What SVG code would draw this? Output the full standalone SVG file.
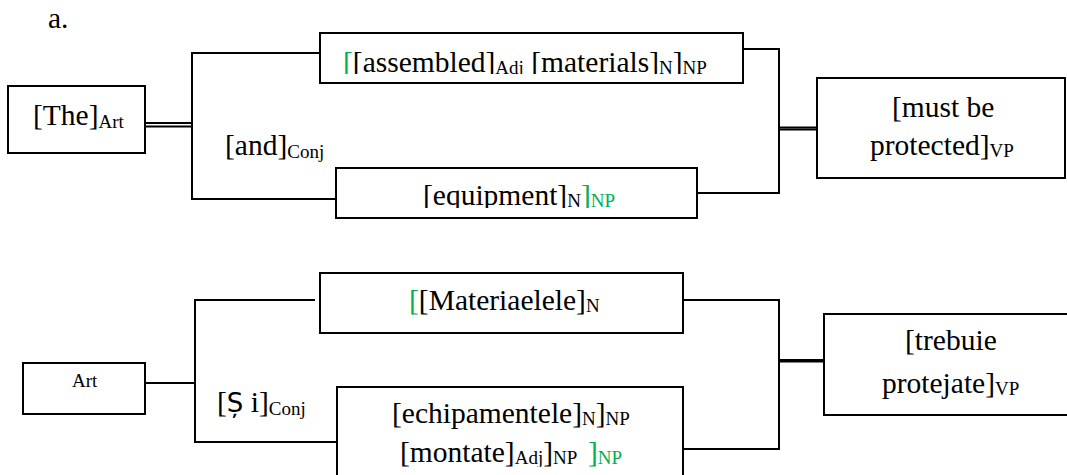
<svg xmlns="http://www.w3.org/2000/svg" width="1067" height="475" viewBox="0 0 1067 475">
  <style>
    text { font-family: 'Liberation Serif', 'DejaVu Serif', 'Times New Roman', serif; font-size: 29.5px; fill: #000; }
    .sub { font-size: 19px; }
    .g { fill: #00b050; }
    .box { fill: #fff; stroke: #000; stroke-width: 2; }
    .ln { fill: none; stroke: #000; stroke-width: 2; }
  </style>
  <defs>
    <clipPath id="clip-np1"><rect x="320" y="33" width="423" height="41"/></clipPath>
    <clipPath id="clip-np2"><rect x="336" y="168" width="361" height="40"/></clipPath>
    <clipPath id="clip-np4"><rect x="337" y="387" width="346" height="80"/></clipPath>
  </defs>

  <text x="48" y="28">a.</text>

  <!-- connectors -->
  <g id="connectors">
    <!-- upper tree -->
    <line class="ln" x1="143" y1="123" x2="193" y2="123"/>
    <line class="ln" x1="143" y1="126.5" x2="193" y2="126.5"/>
    <polyline class="ln" points="320,53 192,53 192,199 337,199"/>
    <polyline class="ln" points="743,49 779,49 779,193 697,193"/>
    <line class="ln" x1="779" y1="127.5" x2="843" y2="127.5" stroke-width="2.5"/>
    <line class="ln" x1="779" y1="129.5" x2="862" y2="129.5" stroke-width="1.6"/>
    <!-- lower tree -->
    <line class="ln" x1="145" y1="383" x2="196" y2="383" stroke-width="3"/>
    <polyline class="ln" points="315,300 195,300 195,442 337,442"/>
    <polyline class="ln" points="683,300 779,300 779,449 683,449"/>
    <line class="ln" x1="779" y1="360" x2="843" y2="360" stroke-width="2.5"/>
    <line class="ln" x1="779" y1="361.5" x2="862" y2="361.5" stroke-width="1.6"/>
  </g>

  <!-- upper tree nodes -->
  <g id="node-the">
    <rect class="box" x="8" y="86" width="137" height="67"/>
    <text x="33" y="125">[The]<tspan class="sub" dy="3">Art</tspan></text>
  </g>
  <g id="node-and">
    <text x="225" y="155">[and]<tspan class="sub" dy="3">Conj</tspan></text>
  </g>
  <g id="node-np1">
    <rect class="box" x="320" y="33" width="423" height="50"/>
    <text x="343" y="72" clip-path="url(#clip-np1)"><tspan class="g">[</tspan>[assembled]<tspan class="sub" dy="2">Adj</tspan><tspan dy="-2"> [materials]</tspan><tspan class="sub" dy="2">N</tspan><tspan dy="-2">]</tspan><tspan class="sub" dy="2">NP</tspan></text>
  </g>
  <g id="node-np2">
    <rect class="box" x="336" y="168" width="361" height="50"/>
    <text x="423" y="205" clip-path="url(#clip-np2)">[equipment]<tspan class="sub" dy="2">N</tspan><tspan class="g" dy="-2">]</tspan><tspan class="sub g" dy="2">NP</tspan></text>
  </g>
  <g id="node-vp1">
    <rect class="box" x="817" y="78" width="248" height="100"/>
    <text x="892" y="117">[must be</text>
    <text x="870" y="155">protected]<tspan class="sub" dy="2">VP</tspan></text>
  </g>

  <!-- lower tree nodes -->
  <g id="node-art">
    <rect class="box" x="23" y="363" width="122" height="51"/>
    <text class="sub" x="72" y="387">Art</text>
  </g>
  <g id="node-si">
    <text x="217" y="412">[<tspan style="font-family: 'DejaVu Sans', sans-serif; font-size: 26px">Ș</tspan> i]<tspan class="sub" dy="3">Conj</tspan></text>
  </g>
  <g id="node-np3">
    <rect class="box" x="320" y="273" width="363" height="60"/>
    <text x="409" y="310"><tspan class="g">[</tspan>[Materiaelele]<tspan class="sub" dy="2">N</tspan></text>
  </g>
  <g id="node-np4">
    <rect class="box" x="337" y="387" width="346" height="100"/>
    <text x="392" y="423">[echipamentele]<tspan class="sub" dy="2">N</tspan><tspan dy="-2">]</tspan><tspan class="sub" dy="2">NP</tspan></text>
    <g clip-path="url(#clip-np4)">
      <text x="400" y="462">[montate]<tspan class="sub" dy="2">Adj</tspan><tspan dy="-2">]</tspan><tspan class="sub" dy="2">NP</tspan></text>
      <text class="g" x="588" y="462">]<tspan class="sub" dy="2">NP</tspan></text>
    </g>
  </g>
  <g id="node-vp2">
    <rect class="box" x="824" y="314" width="260" height="101"/>
    <text x="905" y="350">[trebuie</text>
    <text x="882" y="393">protejate]<tspan class="sub" dy="2">VP</tspan></text>
  </g>
</svg>
